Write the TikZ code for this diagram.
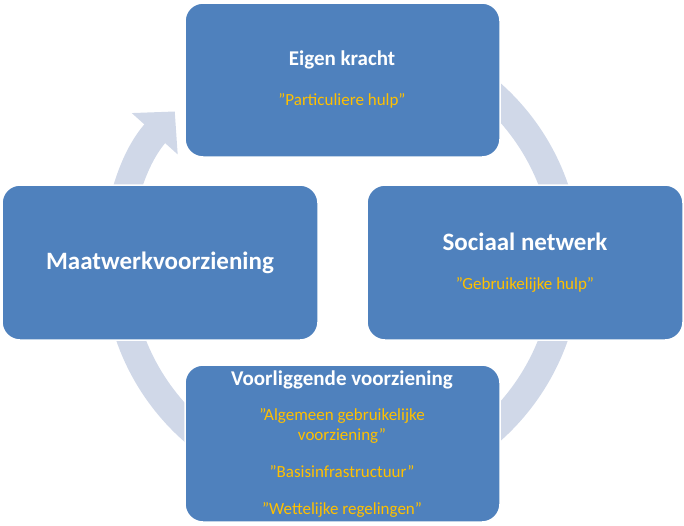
\documentclass[tikz,border=0pt]{standalone}
\usepackage{fontspec}
\setmainfont{Carlito}
\usetikzlibrary{arrows.meta}
\definecolor{boxblue}{HTML}{4F81BD}
\definecolor{ringc}{HTML}{D0D8E8}
\definecolor{gold}{HTML}{FFC000}
\begin{document}
\begin{tikzpicture}[x=1pt,y=1pt,
  box/.style={draw=white,line width=1.5pt,fill=boxblue,rounded corners=18pt,inner sep=0pt},
  ttl/.style={text=white,font=\bfseries\fontsize{21}{24}\selectfont},
  big/.style={text=white,font=\bfseries\fontsize{25}{28}\selectfont},
  sub/.style={text=gold,font=\fontsize{17}{20}\selectfont,align=center}]
\useasboundingbox (0,0) rectangle (684,-525);
\coordinate (c) at (342,-262);
\draw[ringc,line width=28pt,-{Triangle[width=60pt,length=30pt]}] ([shift={(100:225)}]c) arc[start angle=100,end angle=-222,radius=225];
\node[box,minimum width=315pt,minimum height=154pt] (top) at (342.5,-80) {};
\node[box,minimum width=316pt,minimum height=155pt] (right) at (525,-262.5) {};
\node[box,minimum width=316pt,minimum height=155pt] (left) at (160,-262.5) {};
\node[box,minimum width=315pt,minimum height=157pt] (bot) at (342.5,-443.5) {};
\node[ttl] (t1) at (342,-60) {Eigen kracht};
\node[sub] (t2) at (342,-101) {"Particuliere hulp"};
\node[big] (r1) at (525,-242) {Sociaal netwerk};
\node[sub] (r2) at (525,-285) {"Gebruikelijke hulp"};
\node[big] (l1) at (160,-263) {Maatwerkvoorziening};
\node[ttl] (b1) at (342,-380) {Voorliggende voorziening};
\node[sub] (b2) at (342,-426) {"Algemeen gebruikelijke\\voorziening"};
\node[sub] (b3) at (342,-472) {"Basisinfrastructuur"};
\node[sub] (b4) at (342,-510) {"Wettelijke regelingen"};
\end{tikzpicture}
\end{document}
